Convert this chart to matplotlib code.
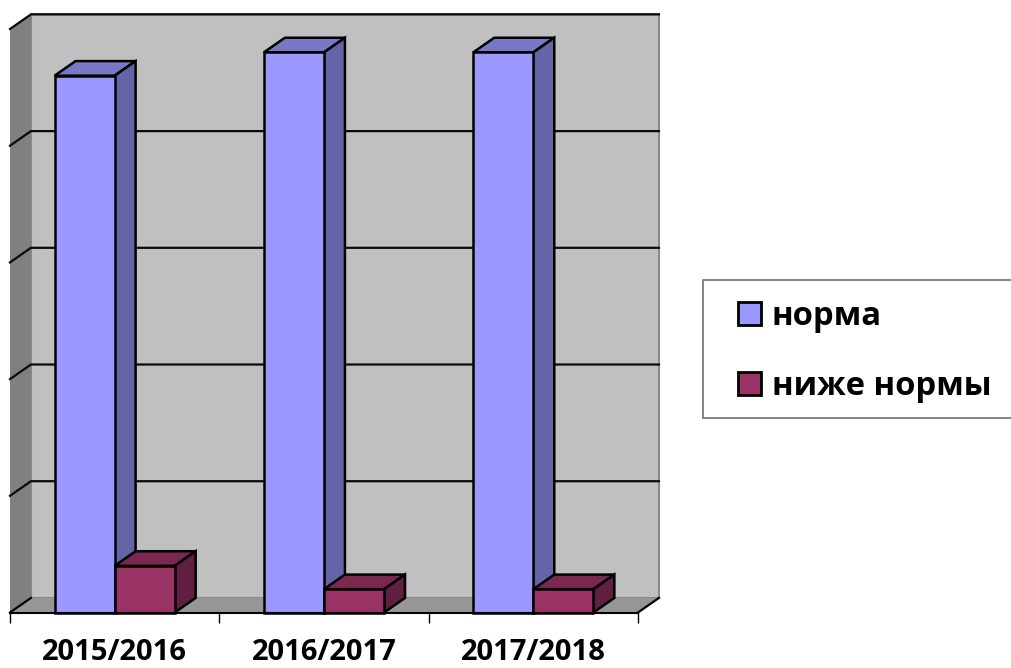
import matplotlib
matplotlib.use("Agg")
import matplotlib.pyplot as plt
from matplotlib.patches import Polygon, Patch, Rectangle

categories = ["2015/2016", "2016/2017", "2017/2018"]
norma = [92, 96, 96]
below = [8, 4, 4]
series_labels = ["норма", "ниже нормы"]
gridvals = [20, 40, 60, 80, 100]

W, H = 1012, 668
FONT = "Open Sans"
fig = plt.figure(figsize=(W / 100, H / 100), dpi=100, facecolor="white")
ax = fig.add_axes([10 / W, (H - 612.5) / H, 628 / W, 583.5 / H])
ax.set_xlim(0, 3)
ax.set_ylim(0, 100)
ax.patch.set_visible(False)
for s in ("left", "right", "top"):
    ax.spines[s].set_visible(False)
ax.spines["bottom"].set_linewidth(1.5)
ax.spines["bottom"].set_zorder(20)
ax.set_yticks([])

DX, DY = 0.1, 2.5
BW = 0.287
LW = 1.8


def poly(pts, fc, ec="none", lw=0, z=1):
    ax.add_patch(Polygon(pts, closed=True, facecolor=fc, edgecolor=ec, linewidth=lw,
                         zorder=z, clip_on=False, joinstyle="miter"))


# walls and floor
poly([(DX, DY), (3 + DX, DY), (3 + DX, 100 + DY), (DX, 100 + DY)], "#C0C0C0", "#8A8A8A", 1.5, 1)
poly([(0, 0), (DX, DY), (DX, 100 + DY), (0, 100)], "#808080", z=2)
poly([(0, 0), (3, 0), (3 + DX, DY), (DX, DY)], "#969696", z=2)
ax.plot([0, DX], [0, DY], color="black", lw=1.6, zorder=3, clip_on=False)
ax.plot([3, 3 + DX], [0, DY], color="black", lw=1.6, zorder=3, clip_on=False)

# gridlines on back and side walls
for v in gridvals:
    ax.plot([0, DX, 3 + DX], [v, v + DY, v + DY], color="#0A0A0A", lw=1.6, zorder=3,
            clip_on=False, solid_joinstyle="miter")


def bar3d(x0, h, front, top, side, z):
    x1 = x0 + BW
    poly([(x0, h), (x1, h), (x1 + DX, h + DY), (x0 + DX, h + DY)], top, "black", LW, z)
    poly([(x1, 0), (x1 + DX, DY), (x1 + DX, h + DY), (x1, h)], side, "black", LW, z)
    poly([(x0, 0), (x1, 0), (x1, h), (x0, h)], front, "black", LW, z)


for i, (a, b) in enumerate(zip(norma, below)):
    left = i + 0.5 - BW
    bar3d(left, a, "#9999FF", "#7878C4", "#6464A6", 5 + i * 2)
    bar3d(left + BW, b, "#993366", "#7A2850", "#5F2041", 6 + i * 2)

# axis ticks and category labels
ax.set_xticks(range(4))
ax.set_xticklabels([])
ax.tick_params(axis="x", which="major", length=7, width=1, color="black", direction="out")
ax.set_xticks([i + 0.5 for i in range(3)], minor=True)
ax.set_xticklabels(categories, minor=True, fontsize=21, fontweight="bold", family=FONT)
ax.tick_params(axis="x", which="minor", length=0, pad=18)

# legend box, cut by the right edge of the picture
fig.add_artist(Rectangle((703 / W, (H - 418) / H), 340 / W, 138 / H, transform=fig.transFigure,
                         facecolor="white", edgecolor="#707070", linewidth=1.2))
handles = [Patch(facecolor="#9999FF", edgecolor="black", linewidth=2),
           Patch(facecolor="#993366", edgecolor="black", linewidth=2)]
leg = fig.legend(handles, series_labels, loc="upper left",
                 bbox_to_anchor=(738 / W, (H - 300) / H), bbox_transform=fig.transFigure,
                 frameon=False, borderpad=0, borderaxespad=0,
                 prop={"family": FONT, "weight": "bold", "size": 23.6},
                 handlelength=0.7, handleheight=0.7, handletextpad=0.33, labelspacing=1.12)

fig.savefig("out.png", dpi=100, facecolor="white")
